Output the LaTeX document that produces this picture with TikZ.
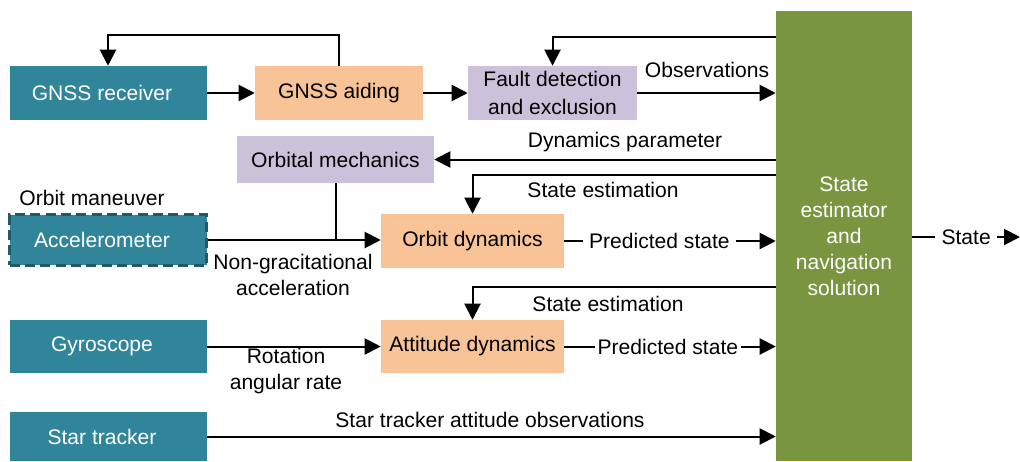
\documentclass[tikz,border=0pt]{standalone}
\usepackage{fontspec}
\setmainfont{Liberation Sans}
\usetikzlibrary{arrows.meta}
\definecolor{sensorteal}{RGB}{49,133,154}
\definecolor{sensoredge}{RGB}{33,89,104}
\definecolor{peach}{RGB}{249,195,152}
\definecolor{lavender}{RGB}{204,193,218}
\definecolor{olivegreen}{RGB}{121,149,64}
\begin{document}
\begin{tikzpicture}[x=0.75pt,y=0.75pt,yscale=-1,
    font=\fontsize{15.8}{19.5}\selectfont,
    sensor/.style={rectangle,fill=sensorteal,text=white,minimum width=147.75pt,inner sep=0.75pt,
      execute at end node={\hspace*{9pt}}},
    peachbox/.style={rectangle,fill=peach,minimum height=40.5pt,inner sep=0.75pt},
    lilacbox/.style={rectangle,fill=lavender,align=center,inner sep=0.75pt},
    estbox/.style={rectangle,fill=olivegreen,text=white,align=center,minimum width=102pt,minimum height=337.5pt},
    wire/.style={line width=1.5pt},
    arr/.style={wire,-{Triangle[length=12pt,width=12pt]}},
    lbl/.style={inner sep=0.75pt,align=center},
    onwire/.style={lbl,fill=white,inner xsep=5pt}
  ]
  \useasboundingbox (0,0) rectangle (1020,461);

  % Sensors
  \node[sensor,minimum height=40.5pt] (rx) at (108,93) {GNSS receiver};
  \node[sensor,minimum height=38pt,draw=sensoredge,line width=2pt,dash pattern=on 7.5pt off 4pt] (acc) at (108,240) {Accelerometer};
  \node[sensor,minimum height=39.75pt] (gyro) at (108,346.5) {Gyroscope};
  \node[sensor,minimum height=36.75pt] (star) at (108,436.5) {Star tracker};

  % Processing blocks
  \node[peachbox,minimum width=126pt] (aid) at (339,93) {GNSS aiding};
  \node[lilacbox,minimum width=126.75pt,minimum height=40.5pt,font=\fontsize{15.8}{20.5}\selectfont] (fde) at (552.5,93) {Fault detection\\and exclusion};
  \node[lilacbox,minimum width=147.75pt,minimum height=35.25pt] (orb) at (335.5,159.5) {Orbital mechanics};
  \node[peachbox,minimum width=137.25pt] (odyn) at (472.5,241) {Orbit dynamics};
  \node[peachbox,minimum width=137.25pt,minimum height=39.75pt] (adyn) at (472.5,346.5) {Attitude dynamics};
  \node[estbox] (est) at (844,236) {State\\estimator\\and\\navigation\\solution};

  % Bends of the feedback lines
  \coordinate (fbrx) at (0,35);
  \coordinate (fbfde) at (0,37);
  \coordinate (se1) at (0,175);
  \coordinate (se2) at (0,287);
  \coordinate (out) at (1020,237);

  % GNSS chain
  \draw[arr] (rx.east) -- (aid.west);
  \draw[arr] (aid.east) -- (fde.west);
  \draw[arr] (aid.north) -- (aid.north |- fbrx) -| (rx.north);
  \draw[arr] (est.west |- fbfde) -| (fde.north);
  \draw[arr] (fde.east) -- (fde.east -| est.west);

  % Orbit branch
  \draw[arr] (est.west |- orb.east) -- (orb.east);
  \draw[arr] (est.west |- se1) -| (odyn.north);
  \draw[arr] (acc.east) -- (acc.east -| odyn.west);
  \draw[wire] (orb.south) -- (orb.south |- acc.east);
  \draw[arr] (odyn.east) -- node[onwire,pos=.45] (pred1) {Predicted state} (odyn.east -| est.west);

  % Attitude branch
  \draw[arr] (est.west |- se2) -| (adyn.north);
  \draw[arr] (gyro.east) -- (gyro.east -| adyn.west);
  \draw[arr] (adyn.east) -- node[onwire,pos=.49,inner xsep=2pt] (pred2) {Predicted state} (adyn.east -| est.west);
  \draw[arr] (star.east) -- (star.east -| est.west);

  % Output
  \draw[arr] (est.east |- out) -- node[onwire] (stout) {State} (out);

  % Labels
  \node[lbl] (obs) at (707,70) {Observations};
  \node[lbl] (dynpar) at (625,142) {Dynamics parameter};
  \node[lbl] (se1lbl) at (603,190) {State estimation};
  \node[lbl] (maneuver) at (92,198) {Orbit maneuver};
  \node[lbl] (ngacc) at (293,275) {Non-gracitational\\acceleration};
  \node[lbl] (se2lbl) at (608,304) {State estimation};
  \node[lbl] (rotrate) at (286,371) {Rotation\\angular rate};
  \node[lbl] (stobs) at (490,420) {Star tracker attitude observations};
\end{tikzpicture}
\end{document}
